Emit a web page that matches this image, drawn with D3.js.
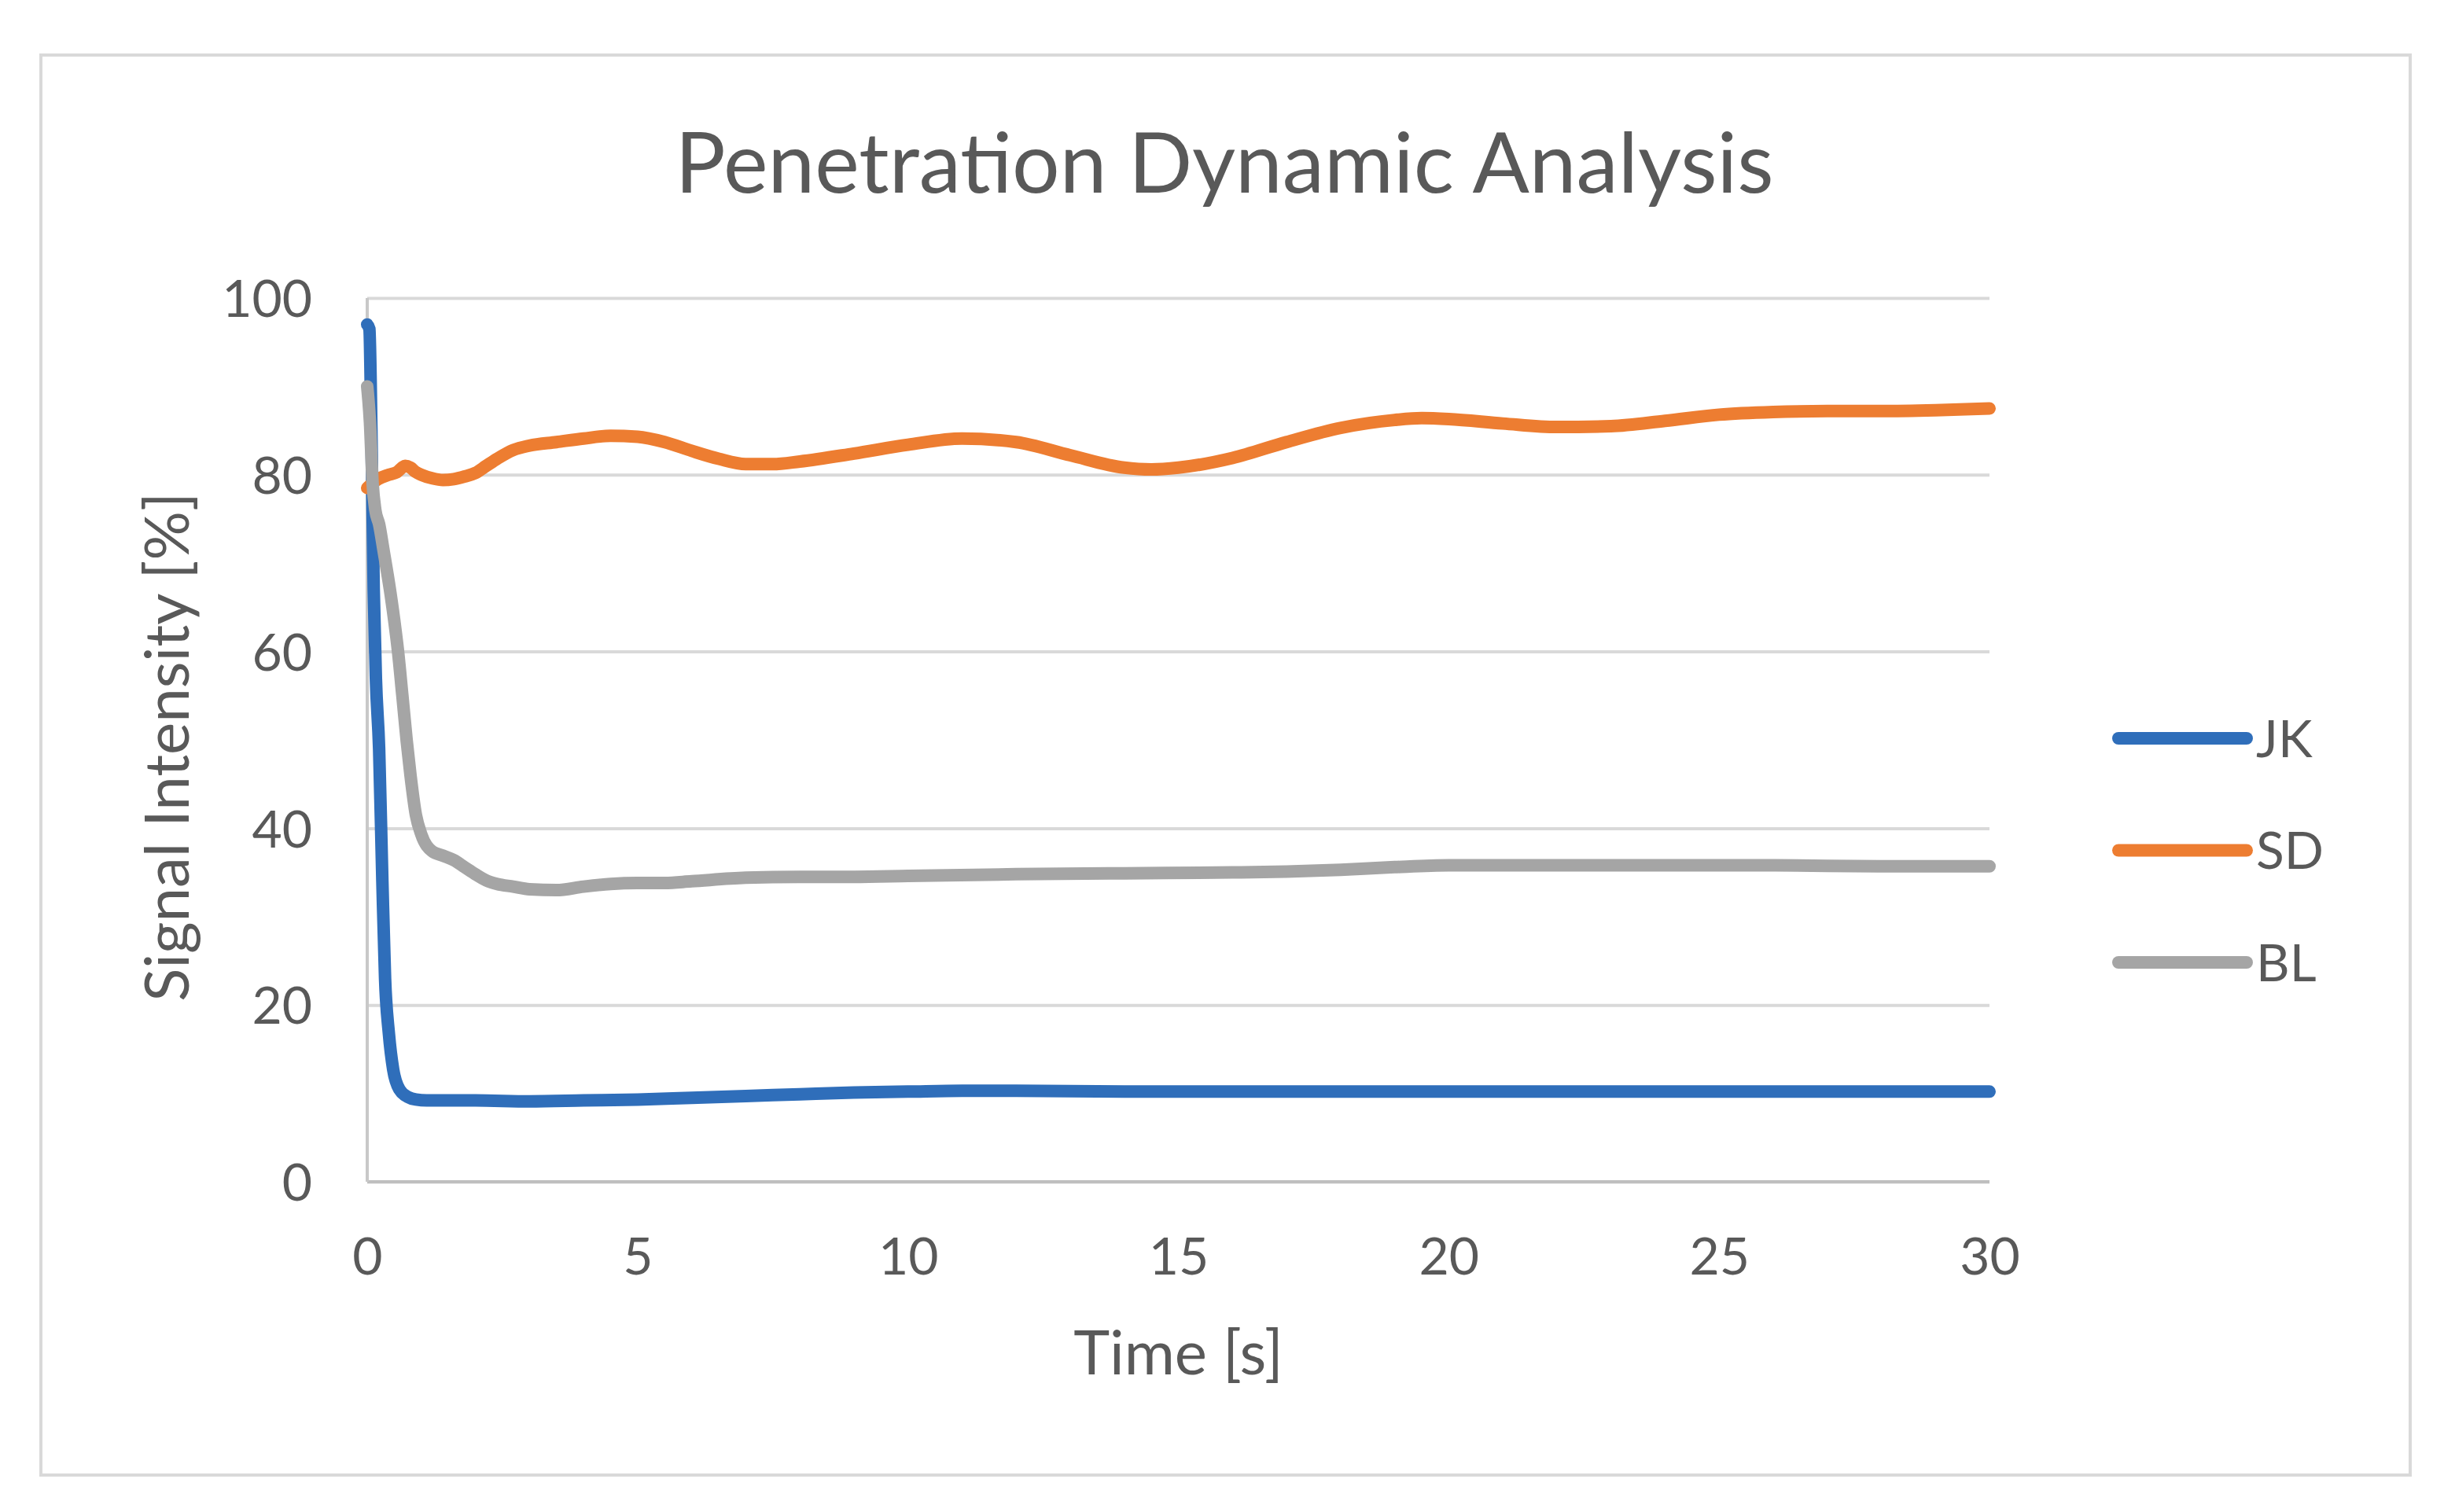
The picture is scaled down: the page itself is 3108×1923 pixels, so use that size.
<!DOCTYPE html>
<html>
<head>
<meta charset="utf-8">
<script src="https://cdn.jsdelivr.net/npm/d3@7/dist/d3.min.js"></script>
<style>
  html, body { margin: 0; padding: 0; background: #fff; }
  svg { display: block; }
  text { font-family: Lato, "Open Sans", sans-serif; fill: #595959; }
</style>
</head>
<body>
<svg id="chart"></svg>
<script>
// Values
const seriesNames = ["JK", "SD", "BL"];
const seriesColors = ["#2F6EBA", "#ED7D31", "#A5A5A5"];

const jkTime = [0, 0.04, 0.08, 0.12, 0.16, 0.22, 0.28, 0.33, 0.4, 0.48, 0.6, 0.75, 0.9, 1.1, 2, 3, 4, 5, 6, 7, 8, 9, 10, 11, 12, 14, 16, 18, 20, 22, 24, 26, 28, 30];
const jkValues = [97, 96.5, 84, 67, 57, 49, 34, 23, 16.8, 12.7, 10.4, 9.6, 9.3, 9.2, 9.2, 9.1, 9.2, 9.3, 9.5, 9.7, 9.9, 10.1, 10.2, 10.3, 10.3, 10.2, 10.2, 10.2, 10.2, 10.2, 10.2, 10.2, 10.2, 10.2];

const sdTime = [0, 0.2, 0.4, 0.55, 0.7, 0.8, 0.9, 1.0, 1.2, 1.4, 1.6, 1.8, 2.0, 2.2, 2.4, 2.7, 3.0, 3.5, 4.0, 4.5, 5.0, 5.5, 6, 6.5, 7, 7.5, 8, 9, 10, 11, 12, 13, 14, 14.5, 15, 16, 17, 18, 19, 19.5, 20, 21, 22, 23, 24, 25, 26, 27, 28, 29, 30];
const sdValues = [78.5, 79.5, 80.0, 80.3, 81.0, 80.8, 80.3, 80.0, 79.6, 79.4, 79.5, 79.8, 80.2, 81.0, 81.8, 82.8, 83.3, 83.7, 84.1, 84.4, 84.3, 83.7, 82.7, 81.8, 81.2, 81.2, 81.5, 82.4, 83.4, 84.1, 83.7, 82.2, 80.8, 80.6, 80.8, 81.9, 83.7, 85.3, 86.2, 86.4, 86.3, 85.8, 85.4, 85.5, 86.1, 86.8, 87.1, 87.2, 87.2, 87.3, 87.5];

const blTime = [0, 0.05, 0.1, 0.15, 0.22, 0.3, 0.42, 0.5, 0.57, 0.65, 0.73, 0.8, 0.9, 1.0, 1.2, 1.4, 1.6, 1.8, 2.0, 2.2, 2.4, 2.7, 3.0, 3.5, 4.0, 4.5, 5.0, 5.5, 6, 7, 8, 9, 10, 12, 14, 16, 17, 18, 19, 20, 22, 24, 26, 28, 30];
const blValues = [90, 86, 79, 76, 74.4, 71.5, 67, 63.5, 60, 55, 49.9, 46, 41.5, 39.3, 37.4, 36.9, 36.4, 35.6, 34.8, 34.1, 33.7, 33.4, 33.1, 33.0, 33.4, 33.7, 33.8, 33.8, 34.0, 34.4, 34.5, 34.5, 34.6, 34.8, 34.9, 35.0, 35.1, 35.3, 35.6, 35.8, 35.8, 35.8, 35.8, 35.7, 35.7];

const xTicks = [0, 5, 10, 15, 20, 25, 30];
const yTicks = [0, 20, 40, 60, 80, 100];

const chartTitle = "Penetration Dynamic Analysis";
const xTitle = "Time [s]";
const yTitle = "Signal Intensity [%]";

// Layout
const width = 3108, height = 1923;
const plot = { left: 467, right: 2530, top: 379, bottom: 1503 };

const svg = d3.select("#chart")
    .attr("width", width)
    .attr("height", height);

svg.append("rect")
    .attr("width", width)
    .attr("height", height)
    .attr("fill", "#fff");

// chart border
svg.append("rect")
    .attr("x", 52)
    .attr("y", 70)
    .attr("width", 3013)
    .attr("height", 1806)
    .attr("fill", "none")
    .attr("stroke", "#D9D9D9")
    .attr("stroke-width", 4);

const xScale = d3.scaleLinear()
    .domain([0, 30])
    .range([plot.left, plot.right]);

const yScale = d3.scaleLinear()
    .domain([0, 100])
    .range([plot.bottom, plot.top]);

// gridlines + y labels
const yAxis = d3.axisLeft(yScale)
    .tickValues(yTicks)
    .tickSize(-(plot.right - plot.left))
    .tickPadding(70);

const gy = svg.append("g")
    .attr("transform", `translate(${plot.left},0)`)
    .call(yAxis);
gy.select(".domain").remove();
gy.selectAll(".tick line")
    .attr("stroke", "#D9D9D9")
    .attr("stroke-width", 4);
gy.selectAll(".tick text")
    .attr("fill", "#595959")
    .style("font-size", "66px")
    .attr("dy", "0.36em");

// x labels
const xAxis = d3.axisBottom(xScale)
    .tickValues(xTicks)
    .tickSize(0);

const gx = svg.append("g")
    .attr("transform", `translate(0,${plot.bottom})`)
    .call(xAxis);
gx.select(".domain").remove();
gx.selectAll(".tick text")
    .attr("fill", "#595959")
    .attr("y", 94)
    .attr("dy", "0.36em")
    .style("font-size", "66px");

// axis lines
svg.append("line")
    .attr("x1", plot.left).attr("x2", plot.right)
    .attr("y1", plot.bottom).attr("y2", plot.bottom)
    .attr("stroke", "#BFBFBF")
    .attr("stroke-width", 4);
svg.append("line")
    .attr("x1", plot.left).attr("x2", plot.left)
    .attr("y1", plot.top).attr("y2", plot.bottom)
    .attr("stroke", "#C8C8C8")
    .attr("stroke-width", 4);

// series
const series = [
    { name: seriesNames[0], color: seriesColors[0], t: jkTime, v: jkValues },
    { name: seriesNames[1], color: seriesColors[1], t: sdTime, v: sdValues },
    { name: seriesNames[2], color: seriesColors[2], t: blTime, v: blValues }
];

const line = d3.line()
    .x(d => xScale(d[0]))
    .y(d => yScale(d[1]))
    .curve(d3.curveMonotoneX);

svg.append("g")
    .selectAll("path")
    .data(series)
    .enter()
    .append("path")
    .attr("d", s => line(d3.zip(s.t, s.v)))
    .attr("fill", "none")
    .attr("stroke", s => s.color)
    .attr("stroke-width", 16)
    .attr("stroke-linecap", "round")
    .attr("stroke-linejoin", "round");

// titles
svg.append("text")
    .attr("x", 1557)
    .attr("y", 245)
    .attr("text-anchor", "middle")
    .style("font-size", "107px")
    .text(chartTitle);

svg.append("text")
    .attr("x", (plot.left + plot.right) / 2)
    .attr("y", 1748)
    .attr("text-anchor", "middle")
    .style("font-size", "78px")
    .text(xTitle);

svg.append("text")
    .attr("transform", `translate(240,950) rotate(-90)`)
    .attr("text-anchor", "middle")
    .style("font-size", "78px")
    .text(yTitle);

// legend
const legend = svg.append("g")
    .selectAll("g")
    .data(series)
    .enter()
    .append("g")
    .attr("transform", (d, i) => `translate(2694,${939 + i * 142.5})`);

legend.append("line")
    .attr("x1", 0).attr("x2", 163)
    .attr("stroke", d => d.color)
    .attr("stroke-width", 16)
    .attr("stroke-linecap", "round");

legend.append("text")
    .attr("x", 175)
    .attr("dy", "0.36em")
    .style("font-size", "66px")
    .text(d => d.name);
</script>
</body>
</html>
